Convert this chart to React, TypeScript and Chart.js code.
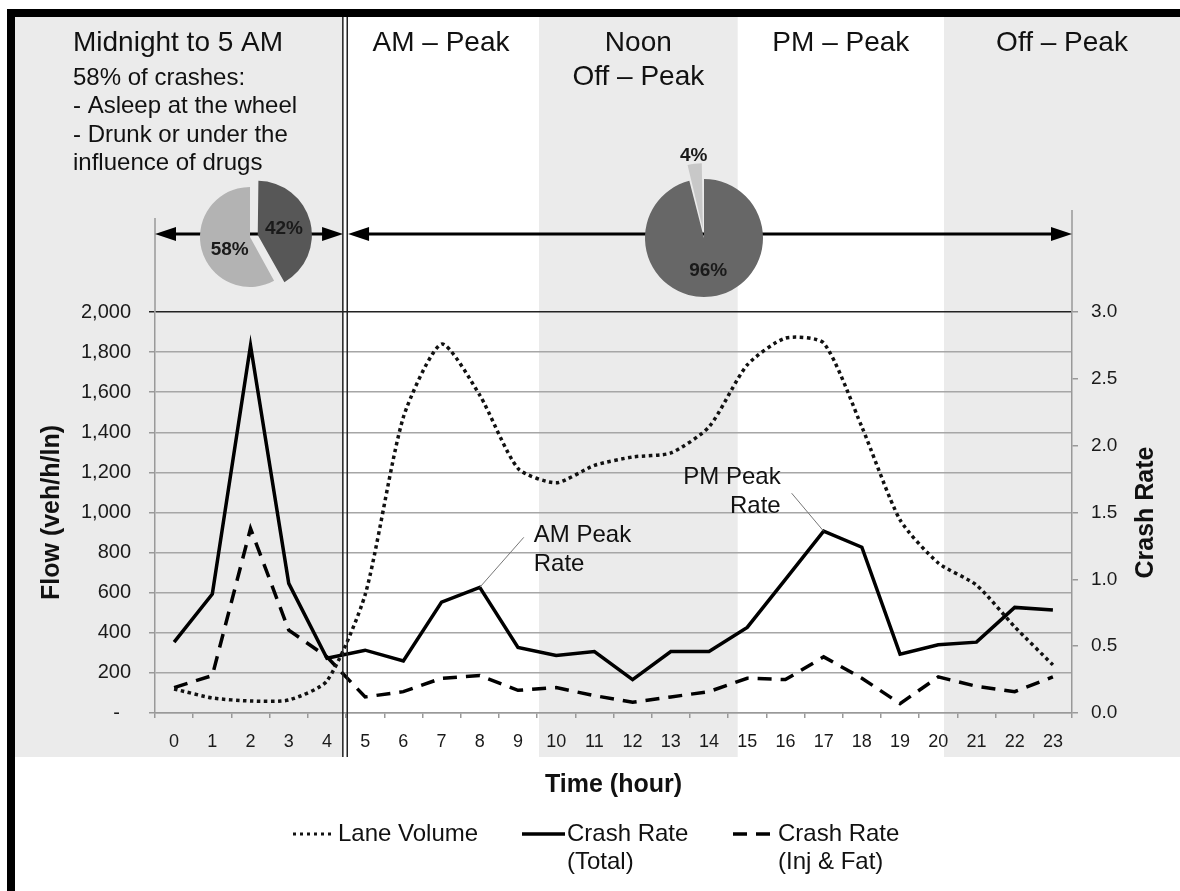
import React, { useEffect, useRef } from 'react';
import { Chart, registerables } from 'chart.js';

Chart.register(...registerables);

// ---------------- data ----------------
const hours = ['0', '1', '2', '3', '4', '5', '6', '7', '8', '9', '10', '11', '12', '13', '14', '15', '16', '17', '18', '19', '20', '21', '22', '23'];
const laneVolume = [120, 75, 60, 65, 160, 590, 1475, 1840, 1585, 1220, 1148, 1235, 1277, 1297, 1427, 1736, 1870, 1845, 1427, 963, 748, 638, 430, 240];
const crashRateTotal = [0.53, 0.89, 2.75, 0.97, 0.41, 0.47, 0.39, 0.83, 0.94, 0.49, 0.43, 0.46, 0.25, 0.46, 0.46, 0.64, 1.0, 1.36, 1.24, 0.44, 0.51, 0.53, 0.79, 0.77];
const crashRateInjFat = [0.19, 0.28, 1.38, 0.62, 0.42, 0.12, 0.16, 0.26, 0.28, 0.17, 0.19, 0.13, 0.08, 0.12, 0.16, 0.26, 0.25, 0.42, 0.26, 0.07, 0.27, 0.2, 0.16, 0.27];

const flowMax = 2000;
const flowStep = 200;
const rateMax = 3.0;
const rateStep = 0.5;

const seriesNames = ['Lane Volume', 'Crash Rate (Total)', 'Crash Rate (Inj & Fat)'];
const legendLines = [['Lane Volume'], ['Crash Rate', '(Total)'], ['Crash Rate', '(Inj & Fat)']];

const periodTitles = [['Midnight to 5 AM'], ['AM – Peak'], ['Noon', 'Off – Peak'], ['PM – Peak'], ['Off – Peak']];
const periodEdges = [4.5, 9.55, 14.75, 20.15];
const nightNotes = ['58% of crashes:', '- Asleep at the wheel', '- Drunk or under the', 'influence of drugs'];

const nightPieValues = [42, 58];
const nightPieLabels = ['42%', '58%'];
const dayPieValues = [96, 4];
const dayPieLabels = ['96%', '4%'];

const calloutIndex = [8, 17];
const calloutText = [['AM Peak', 'Rate'], ['PM Peak', 'Rate']];

// ---------------- styling / layout ----------------
const FONT = '"Liberation Sans", Arial, Helvetica, sans-serif';
const INK = '#111';
const BAND_GRAY = '#ebebeb';
const BAND_TOP = 17;
const BAND_BOTTOM = 757;
const FRAME_L = 15;
const ARROW_Y = 234;

const calloutLayout = [
  { lx: 44, ly: -50, tx: 54, ty: -52, align: 'left' as CanvasTextAlign },
  { lx: -32, ly: -38, tx: -43, ty: -54, align: 'right' as CanvasTextAlign },
];

function drawArrow(ctx: CanvasRenderingContext2D, x1: number, x2: number, y: number) {
  const hl = 21, hw = 7;
  ctx.strokeStyle = '#000';
  ctx.fillStyle = '#000';
  ctx.lineWidth = 3;
  ctx.setLineDash([]);
  ctx.beginPath();
  ctx.moveTo(x1 + hl - 2, y);
  ctx.lineTo(x2 - hl + 2, y);
  ctx.stroke();
  ctx.beginPath();
  ctx.moveTo(x1, y);
  ctx.lineTo(x1 + hl, y - hw);
  ctx.lineTo(x1 + hl, y + hw);
  ctx.closePath();
  ctx.fill();
  ctx.beginPath();
  ctx.moveTo(x2, y);
  ctx.lineTo(x2 - hl, y - hw);
  ctx.lineTo(x2 - hl, y + hw);
  ctx.closePath();
  ctx.fill();
}

const decorPlugin = {
  id: 'decor',
  beforeDraw(chart: any) {
    const { ctx, chartArea: ca, scales } = chart;
    const x = scales.x;
    const W = chart.width, H = chart.height;
    ctx.save();
    ctx.fillStyle = '#fff';
    ctx.fillRect(0, 0, W, H);
    // bands
    ctx.fillStyle = BAND_GRAY;
    ctx.fillRect(FRAME_L, BAND_TOP, W - FRAME_L, BAND_BOTTOM - BAND_TOP);
    const ex = periodEdges.map((v) => x.getPixelForValue(v));
    const dbl = ex[0] - 1;
    const bounds = [FRAME_L, dbl - 2, ex[1], ex[2], ex[3], W];
    ctx.fillStyle = '#fff';
    for (let i = 1; i < 5; i += 2) {
      ctx.fillRect(bounds[i], BAND_TOP, bounds[i + 1] - bounds[i], BAND_BOTTOM - BAND_TOP);
    }
    // frame
    ctx.fillStyle = '#000';
    ctx.fillRect(7, 9, W - 7, 8);
    ctx.fillRect(7, 9, 8, H - 9);

    // headers
    ctx.fillStyle = INK;
    ctx.textBaseline = 'middle';
    ctx.textAlign = 'left';
    ctx.font = `28px ${FONT}`;
    ctx.fillText(periodTitles[0][0], FRAME_L + 58, 43);
    ctx.font = `24px ${FONT}`;
    nightNotes.forEach((t, i) => ctx.fillText(t, FRAME_L + 58, 78 + i * 28.5));
    ctx.font = `28px ${FONT}`;
    ctx.textAlign = 'center';
    for (let p = 1; p < periodTitles.length; p++) {
      const cx = (bounds[p] + bounds[p + 1]) / 2;
      periodTitles[p].forEach((t, i) => ctx.fillText(t, cx, 43 + i * 34));
    }

    // axis extension lines
    ctx.strokeStyle = '#999';
    ctx.lineWidth = 1.5;
    ctx.beginPath();
    ctx.moveTo(ca.left, 218);
    ctx.lineTo(ca.left, ca.top);
    ctx.moveTo(ca.right, 210);
    ctx.lineTo(ca.right, ca.top);
    ctx.stroke();

    // arrows
    drawArrow(ctx, ca.left, dbl - 2, ARROW_Y);
    drawArrow(ctx, dbl + 3, ca.right, ARROW_Y);
    ctx.restore();
  },
  afterDraw(chart: any) {
    const { ctx, chartArea: ca, scales } = chart;
    const x = scales.x;
    const dbl = x.getPixelForValue(periodEdges[0]) - 1;
    ctx.save();
    // double separator
    ctx.strokeStyle = '#222';
    ctx.lineWidth = 1.5;
    ctx.setLineDash([]);
    ctx.beginPath();
    ctx.moveTo(dbl - 2.2, BAND_TOP);
    ctx.lineTo(dbl - 2.2, BAND_BOTTOM);
    ctx.moveTo(dbl + 2.2, BAND_TOP);
    ctx.lineTo(dbl + 2.2, BAND_BOTTOM);
    ctx.stroke();

    // callouts
    const meta = chart.getDatasetMeta(1);
    ctx.font = `24px ${FONT}`;
    ctx.fillStyle = INK;
    ctx.textBaseline = 'middle';
    calloutIndex.forEach((idx, k) => {
      const pt = meta.data[idx];
      const L = calloutLayout[k];
      ctx.strokeStyle = '#777';
      ctx.lineWidth = 1;
      ctx.beginPath();
      ctx.moveTo(pt.x, pt.y);
      ctx.lineTo(pt.x + L.lx, pt.y + L.ly);
      ctx.stroke();
      ctx.textAlign = L.align;
      calloutText[k].forEach((t, i) => ctx.fillText(t, pt.x + L.tx, pt.y + L.ty + i * 29.5));
    });

    // axis titles
    ctx.font = `bold 25px ${FONT}`;
    ctx.textAlign = 'center';
    ctx.fillStyle = INK;
    ctx.fillText('Time (hour)', (ca.left + ca.right) / 2, 785);
    const cy = (ca.top + ca.bottom) / 2;
    ctx.save();
    ctx.translate(52, cy);
    ctx.rotate(-Math.PI / 2);
    ctx.fillText('Flow (veh/h/ln)', 0, 0);
    ctx.restore();
    ctx.save();
    ctx.translate(1146, cy);
    ctx.rotate(-Math.PI / 2);
    ctx.fillText('Crash Rate', 0, 0);
    ctx.restore();

    // legend
    const items = [
      { x0: 293, x1: 333, tx: 338 },
      { x0: 522, x1: 565, tx: 567 },
      { x0: 733, x1: 774, tx: 778 },
    ];
    const ly = 834;
    ctx.font = `24px ${FONT}`;
    ctx.textAlign = 'left';
    chart.data.datasets.forEach((ds: any, i: number) => {
      const it = items[i];
      ctx.strokeStyle = ds.borderColor;
      ctx.lineWidth = i === 0 ? 3 : 3.5;
      ctx.setLineDash(i === 0 ? [3, 4] : ds.borderDash || []);
      ctx.beginPath();
      ctx.moveTo(it.x0, ly);
      ctx.lineTo(it.x1, ly);
      ctx.stroke();
      ctx.setLineDash([]);
      ctx.fillStyle = INK;
      legendLines[i].forEach((t, j) => ctx.fillText(t, it.tx, ly + j * 28.5));
    });
    ctx.restore();
  },
};

function makePie(canvas: HTMLCanvasElement, values: number[], labels: string[], colors: string[], offsets: number[], radius: number, labelDist: number[], labelNudge: number[]) {
  const labelPlugin = {
    id: 'pieLabels',
    afterDatasetsDraw(chart: any) {
      const { ctx } = chart;
      const meta = chart.getDatasetMeta(0);
      ctx.save();
      ctx.font = `bold 19px ${FONT}`;
      ctx.fillStyle = '#1a1a1a';
      ctx.textAlign = 'center';
      ctx.textBaseline = 'middle';
      meta.data.forEach((arc: any, i: number) => {
        const mid = (arc.startAngle + arc.endAngle) / 2;
        const d = labelDist[i] * arc.outerRadius;
        ctx.fillText(labels[i], arc.x + Math.cos(mid) * d, arc.y + Math.sin(mid) * d + labelNudge[i]);
      });
      ctx.restore();
    },
  };
  return new Chart(canvas, {
    type: 'pie',
    data: {
      labels,
      datasets: [{ data: values, backgroundColor: colors, borderWidth: 0, offset: offsets }],
    },
    options: {
      responsive: false,
      animation: false,
      events: [],
      radius,
      layout: { padding: 0 },
      plugins: { legend: { display: false }, tooltip: { enabled: false } },
    } as any,
    plugins: [labelPlugin],
  });
}

export default function App() {
  const mainRef = useRef<HTMLCanvasElement>(null);
  const pie1Ref = useRef<HTMLCanvasElement>(null);
  const pie2Ref = useRef<HTMLCanvasElement>(null);

  useEffect(() => {
    const charts: Chart[] = [];
    const main = new Chart(mainRef.current!, {
      type: 'line',
      data: {
        labels: hours,
        datasets: [
          {
            label: seriesNames[0],
            data: laneVolume,
            yAxisID: 'y',
            borderColor: '#111',
            borderWidth: 3.5,
            borderDash: [3.5, 3.5],
            tension: 0.22,
            pointRadius: 0,
            fill: false,
          },
          {
            label: seriesNames[1],
            data: crashRateTotal,
            yAxisID: 'y1',
            borderColor: '#000',
            borderWidth: 3.5,
            pointRadius: 0,
            tension: 0,
            fill: false,
          },
          {
            label: seriesNames[2],
            data: crashRateInjFat,
            yAxisID: 'y1',
            borderColor: '#000',
            borderWidth: 3.5,
            borderDash: [14, 9],
            pointRadius: 0,
            tension: 0,
            fill: false,
          },
        ],
      },
      options: {
        responsive: false,
        animation: false,
        events: [],
        layout: { padding: { top: 312, left: 0, right: 0, bottom: 0 } },
        plugins: { legend: { display: false }, tooltip: { enabled: false } },
        scales: {
          x: {
            type: 'category',
            offset: true,
            afterFit: (s: any) => { s.height = 178; },
            grid: { display: true, drawOnChartArea: false, drawTicks: true, tickLength: 5, offset: true, color: '#999', lineWidth: 1.5 },
            border: { display: true, color: '#999', width: 1.5 },
            ticks: { color: '#1a1a1a', font: { family: FONT, size: 18 }, padding: 13, maxRotation: 0, autoSkip: false },
          },
          y: {
            type: 'linear',
            position: 'left',
            min: 0,
            max: flowMax,
            afterFit: (s: any) => { s.width = 155; },
            grid: {
              drawOnChartArea: true,
              tickLength: 6,
              lineWidth: 1.5,
              color: (c: any) => (c.tick && c.tick.value === flowMax ? '#222' : '#a6a6a6'),
              tickColor: (c: any) => (c.tick && c.tick.value === flowMax ? '#222' : '#999'),
            },
            border: { display: true, color: '#999', width: 1.5 },
            ticks: {
              stepSize: flowStep,
              color: '#1a1a1a',
              font: { family: FONT, size: 20 },
              padding: 18,
              callback: (v: any) => (Number(v) === 0 ? '-\u00a0\u00a0' : Number(v).toLocaleString('en-US')),
            },
          },
          y1: {
            type: 'linear',
            position: 'right',
            min: 0,
            max: rateMax,
            afterFit: (s: any) => { s.width = 108; },
            grid: { drawOnChartArea: false, tickLength: 6, color: '#999', lineWidth: 1.5 },
            border: { display: true, color: '#999', width: 1.5 },
            ticks: {
              stepSize: rateStep,
              color: '#1a1a1a',
              font: { family: FONT, size: 19 },
              padding: 13,
              callback: (v: any) => Number(v).toFixed(1),
            },
          },
        },
      } as any,
      plugins: [decorPlugin],
    });
    charts.push(main);
    charts.push(makePie(pie1Ref.current!, nightPieValues, nightPieLabels, ['#575757', '#b3b3b3'], [32, 0], 50, [0.7, 0.42], [0, 8]));
    charts.push(makePie(pie2Ref.current!, dayPieValues, dayPieLabels, ['#676767', '#c8c8c8'], [0, 36], 59, [0.56, 1.4], [0, 0]));
    return () => charts.forEach((c) => c.destroy());
  }, []);

  return (
    <div style={{ position: 'absolute', left: 0, top: 0, width: 1180, height: 891, background: '#fff', overflow: 'hidden' }}>
      <canvas ref={mainRef} width={1180} height={891} style={{ position: 'absolute', left: 0, top: 0 }} />
      <canvas ref={pie1Ref} width={140} height={140} style={{ position: 'absolute', left: 180, top: 167 }} />
      <canvas ref={pie2Ref} width={200} height={200} style={{ position: 'absolute', left: 604, top: 138 }} />
    </div>
  );
}
